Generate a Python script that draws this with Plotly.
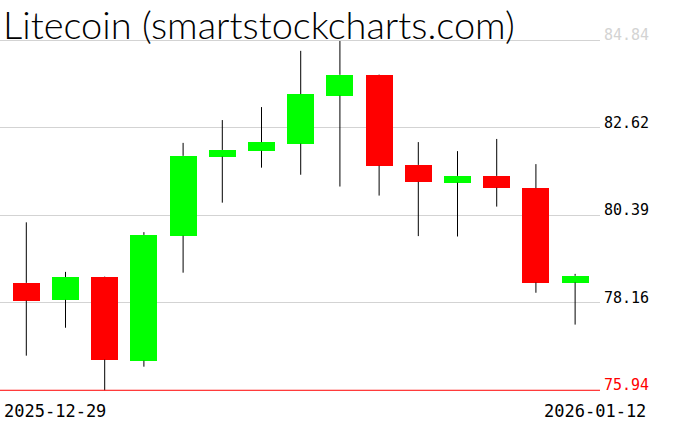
import plotly.graph_objects as go

dates = ["2025-12-29", "2025-12-30", "2025-12-31", "2026-01-01", "2026-01-02",
         "2026-01-03", "2026-01-04", "2026-01-05", "2026-01-06", "2026-01-07",
         "2026-01-08", "2026-01-09", "2026-01-10", "2026-01-11", "2026-01-12"]
opens = [78.67, 78.24, 78.82, 76.69, 79.87, 81.88, 82.03, 82.21, 83.43, 83.96,
         81.67, 81.22, 81.39, 81.08, 78.68]
highs = [80.21, 78.95, 78.83, 79.96, 82.23, 82.81, 83.14, 84.57, 84.82, 83.97,
         82.25, 82.02, 82.33, 81.69, 78.90]
lows = [76.82, 77.53, 75.94, 76.54, 78.93, 80.71, 81.60, 81.42, 81.12, 80.89,
        79.86, 79.85, 80.61, 78.42, 77.61]
closes = [78.22, 78.82, 76.72, 79.89, 81.90, 82.05, 82.25, 83.47, 83.96, 81.65,
          81.24, 81.39, 81.09, 78.68, 78.85]
grid_ticks = [78.16, 80.39, 82.62, 84.84]
min_level = 75.94
title_text = "Litecoin (smartstockcharts.com)"

UP, DOWN = "#00ff00", "#ff0000"

wx, wy = [], []
for d, o, h, l, c in zip(dates, opens, highs, lows, closes):
    top, bot = max(o, c), min(o, c)
    wx += [d, d, None, d, d, None]
    wy += [h, top, None, bot, l, None]

fig = go.Figure()
fig.add_trace(go.Scatter(x=wx, y=wy, mode="lines",
                         line=dict(color="black", width=1),
                         hoverinfo="skip", showlegend=False))
fig.add_trace(go.Bar(
    x=dates,
    base=[min(o, c) for o, c in zip(opens, closes)],
    y=[abs(c - o) for o, c in zip(opens, closes)],
    width=0.69,
    marker=dict(color=[UP if c >= o else DOWN for o, c in zip(opens, closes)],
                line=dict(width=0)),
    showlegend=False))

fig.add_shape(type="line", xref="paper", x0=0, x1=1, yref="y",
              y0=min_level, y1=min_level, line=dict(color="red", width=1))

anns = []
for v in grid_ticks + [min_level]:
    col = "black"
    if v == max(grid_ticks):
        col = "#d3d3d3"
    if v == min_level:
        col = "red"
    anns.append(dict(x=1, xref="paper", y=v, yref="y", xanchor="left",
                     yanchor="middle", xshift=2, yshift=5, showarrow=False,
                     text=f"{v:.2f}",
                     font=dict(family="DejaVu Sans Mono", size=15, color=col)))
anns.append(dict(x=0, xref="paper", y=0, yref="paper", xanchor="left",
                 yanchor="top", xshift=2, yshift=-4, showarrow=False,
                 text=dates[0],
                 font=dict(family="DejaVu Sans Mono", size=17, color="black")))
anns.append(dict(x=1, xref="paper", y=0, yref="paper", xanchor="right",
                 yanchor="top", xshift=48, yshift=-4, showarrow=False,
                 text=dates[-1],
                 font=dict(family="DejaVu Sans Mono", size=17, color="black")))
anns.append(dict(x=0, xref="paper", y=1, yref="paper", xanchor="left",
                 yanchor="middle", xshift=1, yshift=6, showarrow=False,
                 text=title_text,
                 font=dict(family="Lato Light, Lato", size=38, color="black",
                           weight=300)))

fig.update_layout(
    width=676, height=431,
    margin=dict(l=0, r=76, t=30, b=36),
    paper_bgcolor="white", plot_bgcolor="white",
    annotations=anns,
    bargap=0,
    xaxis=dict(type="category", range=[-0.671, 14.635], showgrid=False,
               showticklabels=False, zeroline=False, showline=False, ticks=""),
    yaxis=dict(range=[75.82, 85.10], tickvals=grid_ticks, showticklabels=False,
               showgrid=True, gridcolor="#d3d3d3", gridwidth=1, zeroline=False,
               showline=False, ticks=""),
)

fig.write_html("out.html", config={"displayModeBar": False},
               post_script="document.body.style.margin='0';")
